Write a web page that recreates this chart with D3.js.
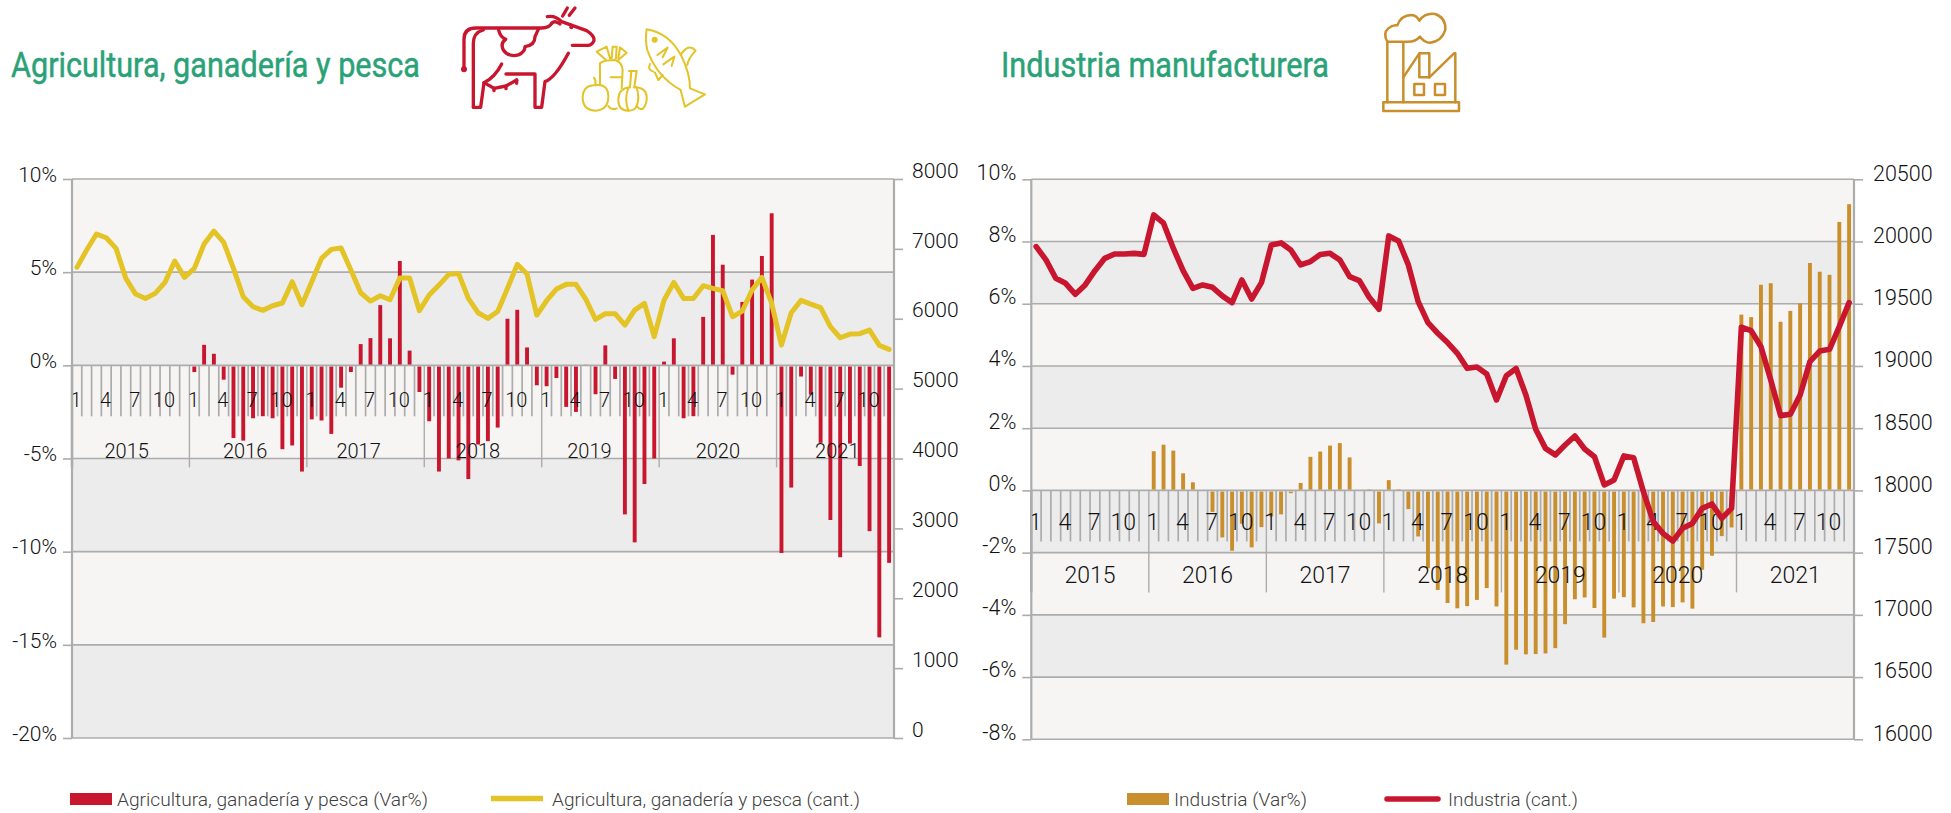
<!DOCTYPE html>
<html>
<head>
<meta charset="utf-8">
<script src="https://cdn.jsdelivr.net/npm/d3@7"></script>
<style>
html,body{margin:0;padding:0;background:#fff;overflow:hidden}
svg{display:block}
text{font-family:Roboto,"Noto Sans",sans-serif}
</style>
</head>
<body>
<svg id="c" width="1951" height="813"></svg>
<script>
const years=["2015","2016","2017","2018","2019","2020","2021"];
const monthLabels=["1","","","4","","","7","","","10","",""];
const agriVar=[null,null,null,null,null,null,null,null,null,null,null,null,
-0.36,1.1,0.62,-0.77,-3.9,-4.04,-2.84,-2.73,-2.84,-4.5,-4.3,-5.7,
-2.9,-2.96,-3.68,-1.2,-0.36,1.14,1.46,3.23,1.45,5.6,0.79,-1.43,
-3.0,-5.7,-5.0,-5.1,-6.1,-4.25,-4.07,-3.34,2.5,2.98,0.96,-1.07,
-1.12,-0.68,-2.23,-2.5,0.05,-1.55,1.07,-0.73,-8.0,-9.5,-6.37,-5.0,
0.2,1.45,-2.84,-2.73,2.6,7.0,5.4,-0.5,3.4,4.6,5.87,8.16,
-10.07,-6.56,-0.6,-1.57,-4.16,-8.3,-10.3,-4.2,-5.4,-8.9,-14.6,-10.6];
const agriCant=[6735,6983,7212,7159,7007,6578,6353,6291,6363,6520,6826,6592,
6721,7069,7255,7093,6721,6315,6172,6120,6186,6225,6530,6201,
6530,6864,6993,7012,6697,6372,6253,6330,6272,6582,6582,6115,
6339,6482,6635,6649,6291,6086,6005,6105,6434,6778,6640,6053,
6258,6425,6492,6492,6282,5991,6072,6072,5910,6124,6220,5743,
6267,6520,6291,6291,6473,6434,6401,6029,6110,6411,6592,6220,
5623,6086,6263,6210,6158,5886,5728,5781,5786,5838,5619,5561];
const indVar=[null,null,null,null,null,null,null,null,null,null,null,null,
1.26,1.47,1.28,0.55,0.26,null,-0.69,-1.51,-1.94,-1.07,-1.83,-1.18,
-0.84,-0.77,-0.09,0.24,1.08,1.25,1.44,1.52,1.06,null,0.04,-1.06,
0.33,0.04,-0.6,-1.48,-2.5,-3.2,-3.62,-3.79,-3.72,-3.52,-3.14,-3.73,
-5.6,-5.12,-5.27,-5.26,-5.24,-5.07,-4.3,-3.5,-3.44,-3.78,-4.73,-3.48,
-3.43,-3.76,-4.27,-4.23,-3.73,-3.75,-3.6,-3.8,-2.55,-2.1,-1.47,-1.19,
5.65,5.57,6.61,6.66,5.42,5.77,6.01,7.31,7.03,6.93,8.63,9.2];
const indCant=[19959,19852,19705,19664,19576,19651,19766,19865,19900,19900,19905,19897,
20214,20147,19946,19766,19624,19651,19632,19563,19509,19691,19538,19670,
19972,19989,19932,19812,19839,19895,19905,19852,19718,19686,19552,19455,
20045,20005,19812,19517,19348,19263,19188,19102,18981,18992,18936,18727,
18922,18979,18767,18491,18338,18285,18365,18437,18333,18271,18044,18084,
18277,18263,17990,17749,17655,17593,17695,17735,17856,17891,17775,17856,
19311,19284,19155,18887,18601,18612,18767,19035,19120,19134,19316,19509];
const agriLeftTicks=[10,5,0,-5,-10,-15,-20];
const agriRightTicks=[8000,7000,6000,5000,4000,3000,2000,1000,0];
const indLeftTicks=[10,8,6,4,2,0,-2,-4,-6,-8];
const indRightTicks=[20500,20000,19500,19000,18500,18000,17500,17000,16500,16000];

const C={band1:"#f6f5f3",band2:"#ececed",grid:"#acacac",text:"#111",legend:"#404040",title:"#2aa277",
  red:"#c9162f",yellow:"#e3c325",ochre:"#c98f2c"};
const svg=d3.select("#c");

function chart(o){
  const g=svg.append("g");
  const months=d3.range(o.bars.length);
  const x=d3.scaleBand().domain(months).range([o.x0,o.x1]);
  const y=d3.scaleLinear().domain(o.leftDomain).range([o.y1,o.y0]);
  const yR=d3.scaleLinear().domain(o.rightDomain).range([o.y1,o.y0]);
  const step=x.step();
  const t=o.leftTicks;
  g.selectAll(".b").data(t.slice(0,-1)).join("rect")
    .attr("x",o.x0).attr("width",o.x1-o.x0)
    .attr("y",d=>y(d)).attr("height",(d,i)=>y(t[i+1])-y(d))
    .attr("fill",(d,i)=>i%2?C.band2:C.band1);
  g.selectAll(".g").data(t).join("line")
    .attr("x1",o.x0).attr("x2",o.x1).attr("y1",d=>y(d)).attr("y2",d=>y(d))
    .attr("stroke",C.grid).attr("stroke-width",1.6);
  g.selectAll(".mt").data(months.slice(1)).join("line")
    .attr("x1",d=>x(d)).attr("x2",d=>x(d))
    .attr("y1",y(0)).attr("y2",d=>d%12===0?y(0)+o.yearTick:y(0)+o.monthTick)
    .attr("stroke",C.grid).attr("stroke-width",d=>d%12===0?1.4:1.7);
  g.append("line").attr("x1",o.x0).attr("x2",o.x0).attr("y1",y(0)).attr("y2",y(0)+o.yearTick).attr("stroke",C.grid).attr("stroke-width",2.5);
  const bw=3.9;
  g.selectAll(".bar").data(months.filter(i=>o.bars[i]!==null)).join("rect")
    .attr("x",i=>x(i)+step/2-bw/2).attr("width",bw)
    .attr("y",i=>Math.min(y(o.bars[i]),y(0)+(o.bars[i]<0?1.2:0)))
    .attr("height",i=>Math.abs(y(o.bars[i])-y(0))-(o.bars[i]<0?1.2:0.8))
    .attr("fill",o.barColor);
  g.selectAll(".ml").data(months.filter(i=>monthLabels[i%12])).join("text")
    .attr("x",i=>x(i)+step/2-(monthLabels[i%12]==="10"?1:0.8)).attr("y",y(0)+o.monthLabelDy)
    .attr("text-anchor","middle").attr("font-size",o.monthFont).attr("font-weight",300)
    .attr("fill",C.text).text(i=>monthLabels[i%12]);
  g.selectAll(".yl").data(years).join("text")
    .attr("x",(d,i)=>x(i*12)+step*6+o.yearShift[i]).attr("y",y(0)+o.yearLabelDy)
    .attr("text-anchor","middle").attr("font-size",o.yearFont).attr("font-weight",300)
    .attr("fill",C.text).text(d=>d);
  const aL=d3.axisLeft(y).tickValues(t).tickSize(o.tick).tickPadding(6).tickFormat(d=>d+"%");
  const aR=d3.axisRight(yR).tickValues(o.rightTicks).tickSize(o.tick).tickPadding(o.rPad).tickFormat(d3.format("d"));
  [[aL,o.x0,o.leftLift],[aR,o.x1,o.rightLift]].forEach(([a,px,lift])=>{
    const ag=g.append("g").attr("transform",`translate(${px},0)`).call(a);
    ag.selectAll(".domain").attr("stroke",C.grid).attr("stroke-width",2.2).attr("d",`M0,${o.y0}V${o.y1}`);
    ag.selectAll(".tick line").attr("stroke",C.grid).attr("stroke-width",1.6);
    ag.selectAll("text").attr("font-family","Roboto").attr("font-size",o.axisFont).attr("font-weight",300)
      .attr("fill",C.text).attr("dy","0.32em").attr("transform",`translate(0,${-lift})`);
  });
  const line=d3.line().x((d,i)=>x(i)+step/2).y(d=>yR(d)).curve(d3.curveLinear);
  g.append("path").datum(o.line).attr("d",line).attr("fill","none")
    .attr("stroke",o.lineColor).attr("stroke-width",o.lineW).attr("stroke-linejoin","round").attr("stroke-linecap","round");
}

chart({x0:72,x1:894,y0:179,y1:738,leftDomain:[-20,10],rightDomain:[0,8000],leftTicks:agriLeftTicks,rightTicks:agriRightTicks,
  bars:agriVar,line:agriCant,barColor:C.red,lineColor:C.yellow,lineW:5,leftLift:4.5,rightLift:8.5,
  monthTick:51,yearTick:102,monthLabelDy:42,yearLabelDy:93,monthFont:20,yearFont:20,axisFont:21,tick:9,rPad:9,
  yearShift:[-4,-3,-7,-5,-11,0,2]});
chart({x0:1031.3,x1:1854,y0:179.3,y1:739.3,leftDomain:[-8,10],rightDomain:[16000,20500],leftTicks:indLeftTicks,rightTicks:indRightTicks,
  bars:indVar,line:indCant,barColor:C.ochre,lineColor:C.red,lineW:5.6,leftLift:7,rightLift:6,
  monthTick:51,yearTick:102,monthLabelDy:40,yearLabelDy:93,monthFont:23,yearFont:23,axisFont:21.5,tick:9,rPad:10,
  yearShift:[0,0,0,0,0,0,0]});

function fitText(x,y,str,len,size,weight,fill,outline){
  svg.append("text").attr("x",x).attr("y",y).attr("font-size",size).attr("font-weight",weight).attr("fill",fill)
    .attr("stroke",outline?fill:"none").attr("stroke-width",outline||0)
    .attr("textLength",len).attr("lengthAdjust","spacingAndGlyphs").text(str);
}
fitText(11,77,"Agricultura, ganadería y pesca",409,35,400,C.title,0.5);
fitText(1001,77,"Industria manufacturera",328,35,400,C.title,0.5);

svg.append("rect").attr("x",70).attr("y",793).attr("width",42).attr("height",12).attr("fill",C.red);
fitText(117,806,"Agricultura, ganadería y pesca (Var%)",311,18,300,C.legend);
svg.append("line").attr("x1",491).attr("x2",543).attr("y1",798.5).attr("y2",798.5).attr("stroke",C.yellow).attr("stroke-width",5.5);
fitText(552,806,"Agricultura, ganadería y pesca (cant.)",308,18,300,C.legend);
svg.append("rect").attr("x",1127).attr("y",793).attr("width",42).attr("height",12).attr("fill",C.ochre);
fitText(1174,806,"Industria (Var%)",133,18,300,C.legend);
svg.append("line").attr("x1",1387).attr("x2",1438).attr("y1",799).attr("y2",799).attr("stroke",C.red).attr("stroke-width",5.5).attr("stroke-linecap","round");
fitText(1448,806,"Industria (cant.)",130,18,300,C.legend);

function icon(tx,color,sw,paths,dots){
  const g=svg.append("g").attr("transform",`translate(${tx},0) scale(0.3333)`)
    .attr("fill","none").attr("stroke",color).attr("stroke-width",sw).attr("stroke-linecap","round").attr("stroke-linejoin","round");
  paths.forEach(p=>g.append("path").attr("d",p));
  (dots||[]).forEach(d=>g.append("circle").attr("cx",d[0]).attr("cy",d[1]).attr("r",d[2]).attr("fill",color).attr("stroke","none"));
}
icon(440,C.red,10,[
 "M72,205V118Q72,84 108,84H305Q328,84 335,70",
 "M100,322V130Q100,98 130,90",
 "M100,322H122L132,248Q165,232 185,192",
 "M132,248L162,265L198,258L230,240",
 "M198,222H285V322H305L315,245Q345,235 385,160",
 "M322,50Q345,45 365,65L440,92Q465,108 462,122Q455,138 440,136H397",
 "M335,70Q345,60 360,72",
 "M368,48L382,24M388,46L405,24",
 "M176,90Q180,110 197,118Q180,130 190,150Q205,172 235,165Q255,155 255,140Q285,135 285,110L295,88",
 "M162,265V272M198,258V266M230,240V250"
],[[72,208,9],[394,82,6]]);
icon(440,C.yellow,6,[
 "M498,180L470,155L500,140L510,175M515,175L518,140L530,140L528,175M535,175L540,142L560,158L535,180",
 "M480,190Q490,180 525,180Q545,185 548,210L545,265M480,190V255",
 "M512,232H545",
 "M462,233Q468,240 466,255",
 "M466,256Q505,250 505,290Q505,330 465,332Q428,330 428,292Q430,255 466,256",
 "M505,318Q515,332 530,325",
 "M567,213H590L583,262M574,213L570,262",
 "M570,262Q535,265 535,300Q535,332 565,332Q585,332 590,318Q600,332 610,325Q622,310 620,290Q618,262 583,262",
 "M565,265Q552,295 565,332M590,262Q600,295 590,318",
 "M620,88Q690,100 725,170Q750,220 750,265L795,283L735,320L722,270Q650,230 622,150Q615,120 620,88",
 "M722,165Q745,128 767,152Q745,175 742,195",
 "M652,165L683,143L668,172M670,193L703,170L695,198",
 "M630,192Q622,210 640,215M645,218L655,240L668,225"
],[[644,119,9]]);
icon(1360,C.ochre,7.5,[
 "M70,307H297V333H70Z",
 "M82,307V125H130V307",
 "M82,125Q68,100 85,85Q98,73 112,76Q122,46 155,45Q170,46 178,62Q195,38 225,42Q258,52 256,90Q245,125 210,128Q193,128 180,110Q165,128 135,125",
 "M130,232L178,160V232H208V160H178",
 "M208,232L282,160H286V307",
 "M163,252H192V285H163Z",
 "M225,252H255V285H225Z"
]);
</script>
</body>
</html>
